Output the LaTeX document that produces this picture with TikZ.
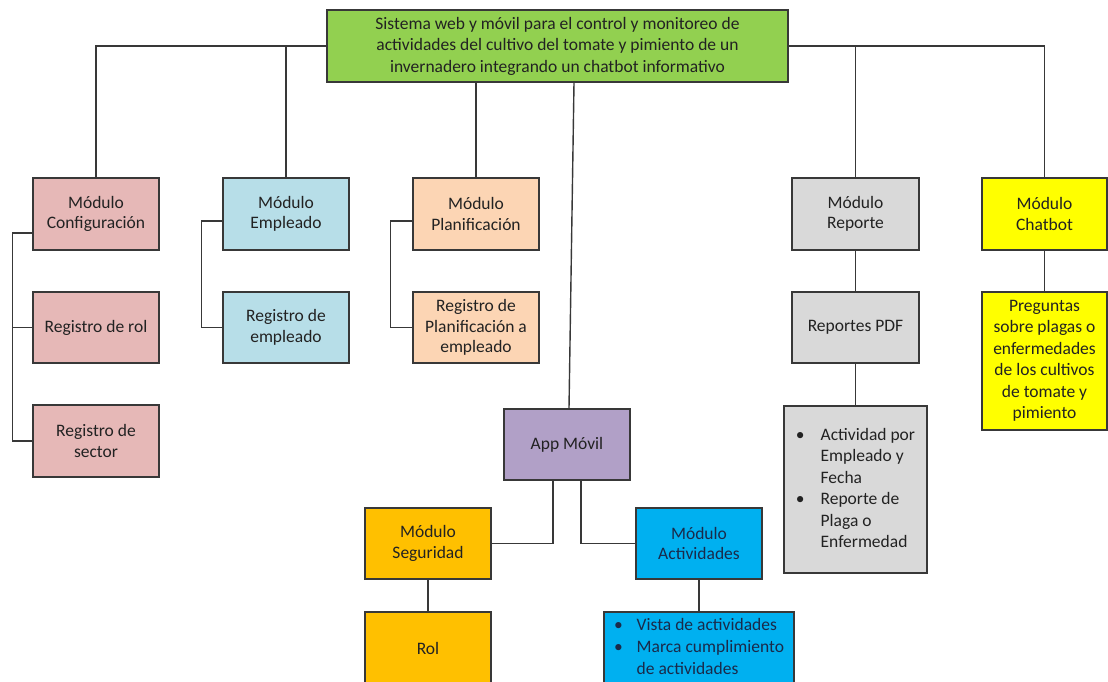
\documentclass[tikz,border=0pt]{standalone}
\usepackage{fontspec}
\setmainfont{Carlito}
\usetikzlibrary{calc}

\definecolor{edge}{HTML}{383838}
\definecolor{txt}{HTML}{222222}
\definecolor{verde}{HTML}{92D050}
\definecolor{rosa}{HTML}{E6B8B7}
\definecolor{celeste}{HTML}{B7DEE8}
\definecolor{durazno}{HTML}{FCD5B4}
\definecolor{gris}{HTML}{D9D9D9}
\definecolor{amarillo}{HTML}{FFFF00}
\definecolor{lila}{HTML}{B1A0C7}
\definecolor{oro}{HTML}{FFC000}
\definecolor{azul}{HTML}{00B0F0}
\definecolor{azultxt}{HTML}{1A2A4A}

\begin{document}
\begin{tikzpicture}[x=1pt,y=-1pt,
  boxbase/.style={draw=edge, line width=1.5pt, minimum width=126pt,
    minimum height=72pt, inner sep=0pt, text=txt,
    font=\fontsize{17.5}{20.5}\selectfont},
  box/.style={boxbase, align=center},
  link/.style={draw=edge, line width=1.4pt}]

\useasboundingbox (0,0) rectangle (1108,682);

% title
\node[box, fill=verde, minimum width=461pt, minimum height=72pt,
  font=\fontsize{17.5}{21.5}\selectfont] (top) at (557.5,46)
  {Sistema web y móvil para el control y monitoreo de\\
   actividades del cultivo del tomate y pimiento de un\\
   invernadero integrando un chatbot informativo};

% configuration module
\node[box, fill=rosa] (config) at (96,214) {Módulo\\Configuración};
\node[box, fill=rosa, minimum height=71pt] (rol) at (96,327.5) {Registro de rol};
\node[box, fill=rosa] (sector) at (96,441) {Registro de\\sector};

% employee module
\node[box, fill=celeste] (emp) at (286,214) {Módulo\\Empleado};
\node[box, fill=celeste, minimum height=71pt] (regemp) at (286,327.5) {Registro de\\empleado};

% planning module
\node[box, fill=durazno] (plan) at (476,214) {Módulo\\Planificación};
\node[box, fill=durazno, minimum height=71pt] (regplan) at (476,327.5)
  {Registro de\\Planificación a\\empleado};

% report module
\node[box, fill=gris, minimum width=127pt] (rep) at (855.5,214) {Módulo\\Reporte};
\node[box, fill=gris, minimum width=127pt, minimum height=71pt] (pdf) at (855.5,327.5) {Reportes PDF};
\node[boxbase, fill=gris, minimum width=143pt, minimum height=167pt,
  font=\fontsize{17.5}{21.5}\selectfont] (bul) at (855.5,489.5)
  {\begin{tabular}{@{}l@{\hspace{16pt}}l@{}}
   \textbullet & Actividad por\\
               & Empleado y\\
               & Fecha\\
   \textbullet & Reporte de\\
               & Plaga o\\
               & Enfermedad
   \end{tabular}\hspace{12pt}};

% chatbot module
\node[box, fill=amarillo, minimum width=125pt] (chat) at (1044.5,214) {Módulo\\Chatbot};
\node[box, fill=amarillo, minimum width=125pt, minimum height=138pt,
  font=\fontsize{17.5}{21.5}\selectfont] (preg) at (1044.5,361)
  {Preguntas\\sobre plagas o\\enfermedades\\de los cultivos\\de tomate y\\pimiento};

% mobile app
\node[box, fill=lila, minimum height=71pt] (app) at (567,444.5) {App Móvil};
\node[box, fill=oro, minimum height=71pt] (seg) at (428,543.5) {Módulo\\Seguridad};
\node[box, fill=azul, minimum height=71pt, text=azultxt] (act) at (699,543.5) {Módulo\\Actividades};
\node[box, fill=oro] (rolm) at (428,648) {Rol};
\node[boxbase, fill=azul, minimum width=190pt, text=azultxt,
  font=\fontsize{17.5}{22}\selectfont] (vista) at (699,648)
  {\begin{tabular}{@{}l@{\hspace{14pt}}l@{}}
   \textbullet & Vista de actividades\\
   \textbullet & Marca cumplimiento\\
               & de actividades
   \end{tabular}\hspace{10pt}};

% connectors from the title
\draw[link] (top.west) -| (config.north);
\draw[link] (top.east) -| (chat.north);
\draw[link] (emp.north) -- (emp.north |- top.west);
\draw[link] (rep.north) -- (rep.north |- top.east);
\draw[link] (plan.north) -- (plan.north |- top.south);
\draw[link] ([xshift=16.5pt]top.south) -- ([xshift=2pt]app.north);

% side brackets
\draw[link] ([yshift=-19pt]config.west) -- ++(-20,0) |- (sector.west);
\draw[link] (rol.west) -- ++(-20,0);
\draw[link] ([yshift=-7pt]emp.west) -- ++(-21,0) |- (regemp.west);
\draw[link] ([yshift=-7pt]plan.west) -- ++(-22,0) |- (regplan.west);

% vertical chains
\draw[link] (rep.south) -- (pdf.north);
\draw[link] (pdf.south) -- (bul.north);
\draw[link] (chat.south) -- (preg.north);
\draw[link] ([xshift=-14pt]app.south) |- (seg.east);
\draw[link] ([xshift=14pt]app.south) |- (act.west);
\draw[link] (seg.south) -- (rolm.north);
\draw[link] (act.south) -- (vista.north);
\end{tikzpicture}
\end{document}
